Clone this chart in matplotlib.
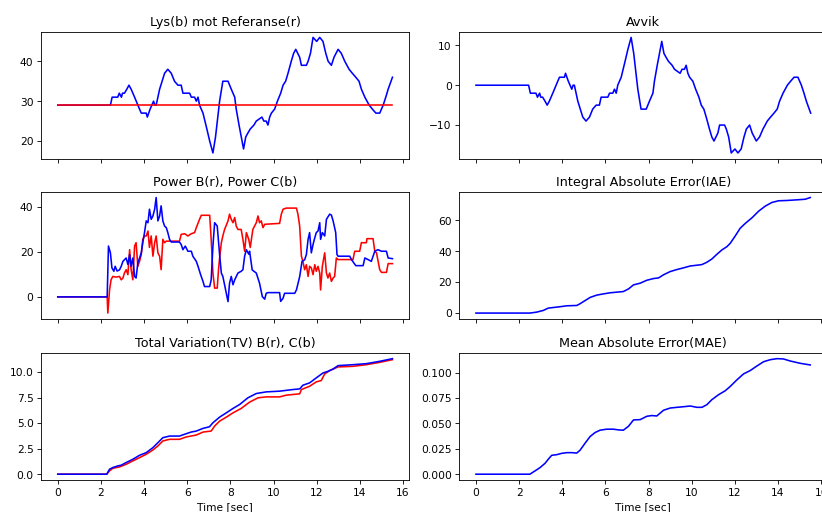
import matplotlib
matplotlib.use("Agg")
import matplotlib.pyplot as plt
from matplotlib.ticker import MultipleLocator

# ---- Lys (b) vs Referanse (r) ----
lys_t = [0, 2.44, 2.52, 2.78, 2.85, 2.95, 3.0, 3.09, 3.2, 3.30, 3.4, 3.56, 3.79, 3.87, 4.10, 4.15,
         4.28, 4.44, 4.50, 4.56, 4.72, 4.95, 5.10, 5.26, 5.41, 5.57, 5.72, 5.80, 6.11, 6.19, 6.34,
         6.42, 6.50, 6.57, 6.73, 6.91, 7.04, 7.19, 7.31, 7.50, 7.65, 7.89, 8.04, 8.20, 8.27, 8.40,
         8.54, 8.61, 8.71, 8.81, 8.92, 9.09, 9.20, 9.46, 9.55, 9.66, 9.74, 9.82, 9.90, 10.05, 10.18,
         10.33, 10.44, 10.56, 10.67, 10.82, 10.93, 11.03, 11.21, 11.29, 11.52, 11.60, 11.71, 11.83,
         12.0, 12.14, 12.29, 12.42, 12.53, 12.68, 12.80, 12.99, 13.14, 13.30, 13.50, 13.65, 13.81,
         13.96, 14.07, 14.23, 14.43, 14.58, 14.74, 14.92, 15.08, 15.20, 15.31, 15.51]
lys = [29, 29, 31, 31, 32, 31, 32, 32, 33, 34, 33, 31, 28, 27, 27, 26, 28, 30, 29, 29,
       33, 37, 38, 37, 35, 34, 34, 32, 32, 31, 31, 30, 31, 29, 27, 23, 20, 17, 21, 30,
       35, 35, 33, 31, 28, 24, 20, 18, 21, 22, 23, 24, 25, 26, 25, 25, 24, 26, 27, 28,
       30, 32, 34, 35, 37, 40, 42, 43, 41, 39, 39, 40, 42, 46, 45, 46, 45, 42, 40, 39,
       41, 43, 42, 40, 38, 37, 36, 35, 33, 31, 29, 28, 27, 27, 29, 31, 33, 36]
ref_t = [0, 15.51]
referanse = [29, 29]

# ---- Avvik ----
avvik = [0, 0, -2, -2, -3, -2, -3, -3, -4, -5, -4, -2, 1, 2, 2, 3, 1, -1, 0, 0,
         -4, -8, -9, -8, -6, -5, -5, -3, -3, -2, -2, -1, -2, 0, 2, 6, 9, 12, 8, -1,
         -6, -6, -4, -2, 1, 5, 9, 11, 8, 7, 6, 5, 4, 3, 4, 4, 5, 3, 2, 1,
         -1, -3, -5, -6, -8, -11, -13, -14, -12, -10, -10, -11, -13, -17, -16, -17, -16, -13, -11, -10,
         -12, -14, -13, -11, -9, -8, -7, -6, -4, -2, 0, 1, 2, 2, 0, -2, -4, -7]

# ---- Power C (blue) ----
powc_t = [0, 2.29, 2.35, 2.44, 2.51, 2.60, 2.66, 2.75, 2.86, 2.94, 3.02, 3.09, 3.17, 3.25, 3.33,
          3.40, 3.48, 3.56, 3.63, 3.71, 3.79, 3.87, 3.94, 4.02, 4.10, 4.18, 4.25, 4.33, 4.41, 4.49,
          4.56, 4.64, 4.72, 4.79, 4.87, 4.95, 5.03, 5.10, 5.18, 5.26, 5.64, 5.72, 5.80, 5.91, 6.03,
          6.19, 6.26, 6.42, 6.50, 6.62, 6.73, 6.80, 7.04, 7.11, 7.19, 7.27, 7.39, 7.50, 7.58, 7.65,
          7.73, 7.81, 7.89, 7.96, 8.04, 8.12, 8.20, 8.35, 8.50, 8.58, 8.66, 8.74, 8.85, 8.89, 9.01,
          9.20, 9.35, 9.48, 9.59, 9.66, 9.74, 10.28, 10.33, 10.44, 10.51, 10.98, 11.06, 11.21, 11.32,
          11.44, 11.52, 11.60, 11.67, 11.75, 11.83, 11.91, 11.98, 12.06, 12.14, 12.18, 12.26, 12.37,
          12.45, 12.60, 12.68, 12.76, 12.88, 12.94, 12.99, 13.53, 13.61, 13.81, 14.15, 14.23, 14.38,
          14.53, 14.69, 14.84, 15.0, 15.23, 15.31, 15.51]
powc = [0, 0, 22.6, 19.6, 12.9, 11.4, 13.6, 11.5, 12, 13.6, 15.8, 16.5, 17.3, 14.4, 18.8,
        13.6, 17.3, 9.1, 8.4, 15.1, 17.3, 19.6, 24.1, 28.6, 33.8, 33, 39, 34.5, 36, 39,
        44.2, 33.8, 36, 40.5, 33.8, 31.5, 30.8, 28.6, 25.6, 24.4, 24.4, 23.3, 21, 22.6, 20.3,
        20.3, 18.1, 15.8, 13.6, 9.9, 6.9, 4.6, 4.6, 7.6, 22.6, 33, 31.5, 18.8, 10.6, 9.1,
        5.4, 1.6, -2.1, 6.1, 9.1, 5.4, 7.6, 10.6, 11.4, 12.1, 18.1, 21, 19, 20.3, 12,
        10.6, 6.1, 0.1, -1, 1.6, 1.9, 1.9, -2, -0.6, 1.6, 1.6, 3.1, 9, 15.8,
        16.5, 18.8, 25.6, 28.6, 19.6, 23.3, 26.3, 28.6, 29.3, 33, 25.6, 28.6, 27.1,
        34.5, 36.8, 36.4, 33.8, 28.6, 18.8, 18.1, 18.1, 16.6, 13.9, 13.9, 17.3, 16.6,
        15.8, 20.3, 21, 20.3, 20.3, 17.3, 17.0]

# ---- Power B (red) ----
powb_t = [0, 2.29, 2.32, 2.40, 2.47, 2.55, 2.71, 2.86, 2.94, 3.02, 3.09, 3.17, 3.25, 3.33, 3.40,
          3.48, 3.56, 3.63, 3.71, 3.79, 3.87, 3.94, 4.02, 4.10, 4.18, 4.25, 4.33, 4.41, 4.49, 4.56,
          4.64, 4.72, 4.79, 4.87, 4.95, 5.03, 5.64, 5.72, 5.88, 6.03, 6.19, 6.34, 6.42, 6.57, 6.65,
          7.04, 7.11, 7.19, 7.27, 7.39, 7.45, 7.50, 7.58, 7.65, 7.73, 7.89, 7.96, 8.04, 8.12, 8.20,
          8.27, 8.35, 8.50, 8.58, 8.66, 8.74, 8.85, 8.92, 9.04, 9.20, 9.28, 9.35, 9.43, 9.51, 9.59,
          10.28, 10.36, 10.44, 10.59, 11.06, 11.13, 11.21, 11.29, 11.36, 11.44, 11.52, 11.60, 11.67,
          11.75, 11.83, 11.91, 11.98, 12.06, 12.14, 12.18, 12.26, 12.37, 12.45, 12.52, 12.60, 12.68,
          12.76, 12.83, 12.91, 12.99, 13.68, 13.76, 13.99, 14.07, 14.30, 14.33, 14.61, 14.69, 14.77,
          14.92, 15.0, 15.23, 15.31, 15.51]
powb = [0, 0, -7.2, 3.1, 7.6, 9.1, 8.8, 9.1, 7.6, 8.4, 10.6, 12.1, 9.9, 21, 12.1,
        7.6, 22.6, 24.1, 13.6, 15.8, 18.8, 25.6, 27.1, 27.1, 29.3, 22, 27.1, 18.1, 24.1, 27.1,
        19.6, 18.1, 12.1, 25.6, 24.1, 24.8, 24.8, 27.8, 28.1, 27.1, 28.1, 28.6, 30.8, 34.5, 36.3,
        36.3, 25.6, 10.6, 3.9, 3.9, 12.1, 17.3, 24.1, 27.1, 30, 33.8, 36.8, 34.5, 33, 35.3,
        31.5, 30, 30, 25.6, 20.3, 28.6, 25.6, 22, 30, 33, 36, 33, 33.8, 30.8, 32.3,
        32.7, 36.8, 39, 39.5, 39.5, 36.8, 31.5, 18.1, 15.8, 12.1, 14.3, 9.1, 13.6,
        12.9, 9.9, 14.3, 11.4, 13.6, 10.6, 3.1, 13.6, 19.6, 10.6, 8.4, 10.6, 6.9,
        8.4, 9.1, 17.3, 16.6, 16.6, 20.3, 20.3, 24.1, 24.1, 25.9, 25.9, 20.3, 19.6,
        12.1, 10.9, 10.9, 14.8, 14.8]

# ---- IAE ----
iae_t = [0, 2.50, 2.81, 3.12, 3.35, 3.59, 3.90, 4.21, 4.67, 4.82, 5.06, 5.29, 5.60, 5.91, 6.22,
         6.52, 6.83, 7.07, 7.30, 7.61, 7.92, 8.23, 8.46, 8.69, 9.0, 9.31, 9.62, 9.93, 10.24, 10.47,
         10.70, 10.93, 11.16, 11.39, 11.63, 11.78, 12.01, 12.24, 12.48, 12.79, 13.10, 13.40, 13.71,
         14.02, 14.41, 14.87, 15.26, 15.49]
iae = [0, 0, 0.6, 1.7, 3.2, 3.6, 4.1, 4.7, 4.9, 6.0, 8.1, 10.1, 11.6, 12.4, 13.1,
       13.5, 13.9, 15.6, 18.2, 19.3, 21.2, 22.3, 22.7, 24.7, 26.8, 28.1, 29.2, 30.4, 30.9, 31.3,
       32.8, 34.9, 37.9, 40.7, 42.9, 45.0, 49.7, 54.7, 57.9, 61.5, 65.8, 69.0, 71.4,
       72.5, 72.7, 73.1, 73.5, 74.6]

# ---- Total Variation ----
tvc_t = [0, 2.27, 2.40, 2.55, 2.78, 2.94, 3.17, 3.48, 3.79, 4.10, 4.41, 4.64, 4.87, 5.18, 5.64,
         5.87, 6.18, 6.42, 6.73, 7.03, 7.19, 7.50, 7.81, 8.12, 8.43, 8.81, 9.20, 9.66, 10.28, 10.90,
         11.21, 11.36, 11.67, 11.98, 12.29, 12.52, 12.76, 12.99, 13.68, 14.30, 14.92, 15.51]
tvc = [0, 0, 0.49, 0.65, 0.81, 0.88, 1.14, 1.46, 1.85, 2.11, 2.6, 3.08, 3.57, 3.73, 3.73,
       3.9, 4.12, 4.22, 4.48, 4.64, 5.03, 5.58, 6.0, 6.43, 6.82, 7.47, 7.89, 8.05, 8.12, 8.28,
       8.34, 8.7, 8.93, 9.42, 9.9, 10.06, 10.29, 10.62, 10.71, 10.81, 11.04, 11.3]
tvb_t = [0, 2.27, 2.40, 2.55, 2.86, 3.17, 3.48, 3.79, 4.10, 4.41, 4.64, 4.87, 5.18, 5.64, 5.95,
         6.42, 6.73, 7.11, 7.27, 7.50, 7.81, 8.12, 8.50, 8.89, 9.28, 9.66, 10.28, 10.59, 11.21,
         11.29, 11.67, 11.98, 12.21, 12.37, 12.60, 12.99, 13.68, 14.30, 14.92, 15.51]
tvb = [0, 0, 0.32, 0.58, 0.71, 0.97, 1.3, 1.62, 1.95, 2.37, 2.76, 3.25, 3.41, 3.41, 3.64,
       3.83, 4.12, 4.22, 4.71, 5.19, 5.58, 6.0, 6.43, 7.05, 7.47, 7.56, 7.56, 7.73, 7.86,
       8.28, 8.6, 9.03, 9.16, 9.81, 10.13, 10.49, 10.55, 10.71, 10.94, 11.2]

# ---- MAE ----
mae_t = [0, 2.50, 2.74, 2.97, 3.20, 3.35, 3.51, 3.74, 3.97, 4.21, 4.44, 4.67, 4.82, 5.06, 5.29,
         5.52, 5.75, 6.06, 6.37, 6.60, 6.83, 7.07, 7.30, 7.61, 7.92, 8.15, 8.38, 8.69, 9.0, 9.31,
         9.62, 9.93, 10.24, 10.47, 10.70, 10.93, 11.24, 11.55, 11.78, 12.09, 12.40, 12.71, 13.02,
         13.33, 13.64, 13.95, 14.25, 14.56, 15.03, 15.49]
mae = [0, 0, 0.0033, 0.0065, 0.0107, 0.0147, 0.0186, 0.0192, 0.0205, 0.0212, 0.0212, 0.0208,
       0.0235, 0.0306, 0.0371, 0.041, 0.0433, 0.0443, 0.0443, 0.0436, 0.0433, 0.0472, 0.0534,
       0.0537, 0.057, 0.0577, 0.0573, 0.0629, 0.0651, 0.0658, 0.0664, 0.0671, 0.0658, 0.0658,
       0.0684, 0.0733, 0.0782, 0.0821, 0.0863, 0.0928, 0.0987, 0.102, 0.1065, 0.1107, 0.1127,
       0.1137, 0.1134, 0.1114, 0.1091, 0.1075]

DPI = 76.5
W, H = 822.0, 512.0
fig, axes = plt.subplots(3, 2, figsize=((W + 0.4) / DPI, (H + 0.4) / DPI), dpi=DPI, sharex=True)

col_left = [41 / W, 459 / W]
ax_w = 368 / W
ax_h = 127 / H
row_bottom = [(H - 159) / H, (H - 319) / H, (H - 480) / H]
for r in range(3):
    for c in range(2):
        axes[r, c].set_position([col_left[c], row_bottom[r], ax_w, ax_h])

ax = axes[0, 0]
ax.plot(lys_t, lys, color='b')
ax.plot(ref_t, referanse, color='r')
ax.set_title("Lys(b) mot Referanse(r)")
ax.yaxis.set_major_locator(MultipleLocator(10))

ax = axes[0, 1]
ax.plot(lys_t, avvik, color='b')
ax.set_title("Avvik")
ax.yaxis.set_major_locator(MultipleLocator(10))

ax = axes[1, 0]
ax.plot(powb_t, powb, color='r')
ax.plot(powc_t, powc, color='b')
ax.set_title("Power B(r), Power C(b)")
ax.yaxis.set_major_locator(MultipleLocator(20))

ax = axes[1, 1]
ax.plot(iae_t, iae, color='b')
ax.set_title("Integral Absolute Error(IAE)")
ax.yaxis.set_major_locator(MultipleLocator(20))

ax = axes[2, 0]
ax.plot(tvb_t, tvb, color='r')
ax.plot(tvc_t, tvc, color='b')
ax.set_title("Total Variation(TV) B(r), C(b)")
ax.set_xlabel("Time [sec]")
ax.yaxis.set_major_locator(MultipleLocator(2.5))

ax = axes[2, 1]
ax.plot(mae_t, mae, color='b')
ax.set_title("Mean Absolute Error(MAE)")
ax.set_xlabel("Time [sec]")
ax.yaxis.set_major_locator(MultipleLocator(0.025))

axes[2, 0].xaxis.set_major_locator(MultipleLocator(2))

fig.savefig("out.png", dpi=DPI)
